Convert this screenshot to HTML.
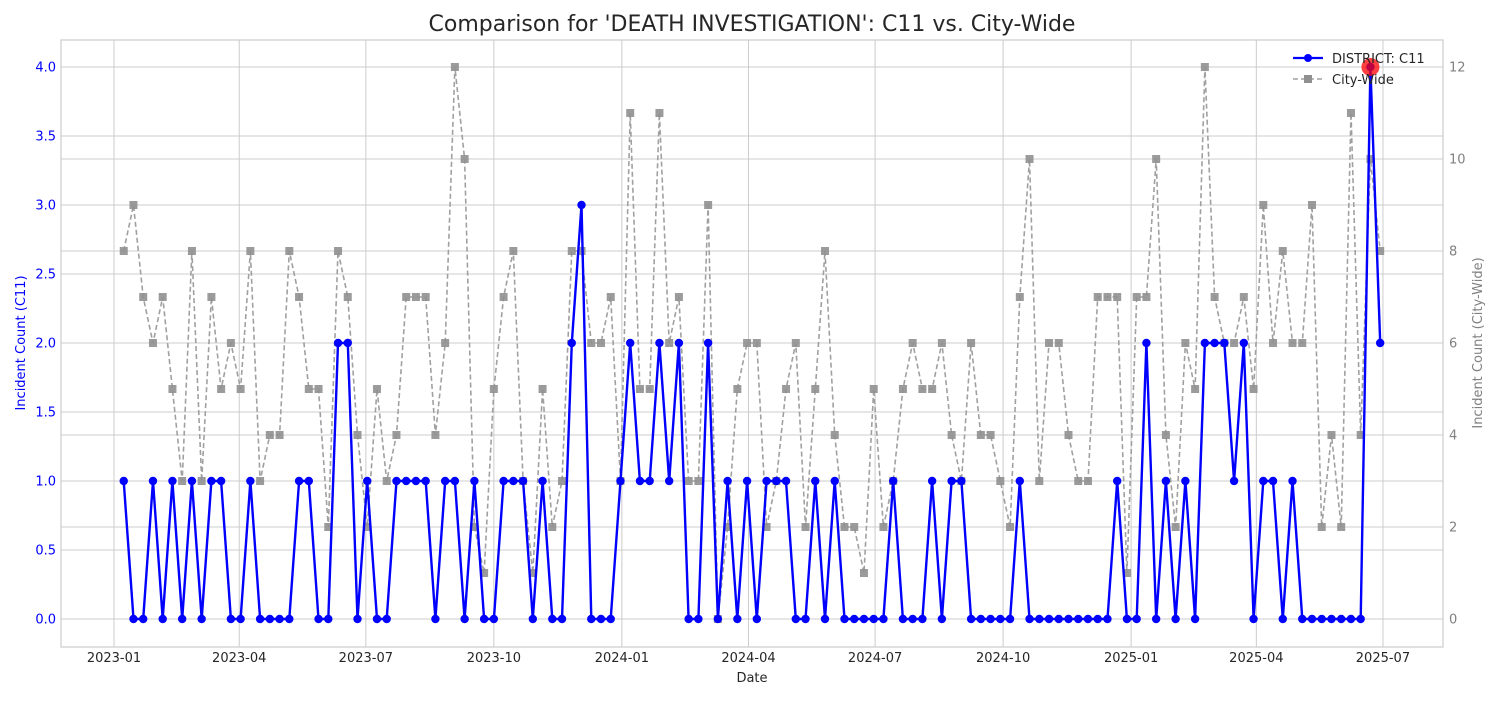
<!DOCTYPE html>
<html><head><meta charset="utf-8">
<style>
body{margin:0;background:#fff;}
svg text{font-family:"DejaVu Sans","Liberation Sans",sans-serif;}
</style></head>
<body>
<svg id="chart" width="1500" height="700" xmlns="http://www.w3.org/2000/svg">
<rect x="0" y="0" width="1500" height="700" fill="#fff"/>
<text x="752" y="31" font-size="22" text-anchor="middle" fill="#262626">Comparison for 'DEATH INVESTIGATION': C11 vs. City-Wide</text>
<g id="grid"></g>
<rect x="61" y="40" width="1382" height="607" fill="none" stroke="#cccccc" stroke-width="1.2"/>
<g id="axes"></g>
<g id="series"></g>
<text x="752" y="682" font-size="13" text-anchor="middle" fill="#262626">Date</text>
<text transform="translate(25,343) rotate(-90)" font-size="13" text-anchor="middle" fill="blue">Incident Count (C11)</text>
<text transform="translate(1482,343) rotate(-90)" font-size="13" text-anchor="middle" fill="#808080">Incident Count (City-Wide)</text>
<g>
  <g>
    <line x1="1293" y1="58" x2="1323" y2="58" stroke="blue" stroke-width="2.2"/>
    <circle cx="1308" cy="58" r="4" fill="blue"/>
    <text x="1332" y="63" font-size="13" fill="#262626">DISTRICT: C11</text>
  </g>
  <g>
    <line x1="1293" y1="79" x2="1323" y2="79" stroke="#a0a0a0" stroke-width="1.6" stroke-dasharray="5,3"/>
    <rect x="1304" y="75" width="8" height="8" fill="#909090"/>
    <text x="1332" y="84" font-size="13" fill="#262626">City-Wide</text>
  </g>
</g>
</svg>
<script>
const startDate = "2023-01-08";
const districtValues = [1,0,0,1,0,1,0,1,0,1, 1,0,0,1,0,0,0,0,1,1, 0,0,2,2,0,1,0,0,1,1, 1,1,0,1,1,0,1,0,0,1, 1,1,0,1,0,0,2,3,0,0, 0,1,2,1,1,2,1,2,0,0, 2,0,1,0,1,0,1,1,1,0, 0,1,0,1,0,0,0,0,0,1, 0,0,0,1,0,1,1,0,0,0, 0,0,1,0,0,0,0,0,0,0, 0,0,1,0,0,2,0,1,0,1, 0,2,2,2,1,2,0,1,1,0, 1,0,0,0,0,0,0,0,4,2];
const cityValues = [8,9,7,6,7,5,3,8,3,7, 5,6,5,8,3,4,4,8,7,5, 5,2,8,7,4,2,5,3,4,7, 7,7,4,6,12,10,2,1,5,7, 8,3,1,5,2,3,8,8,6,6, 7,3,11,5,5,11,6,7,3,3, 9,0,2,5,6,6,2,3,5,6, 2,5,8,4,2,2,1,5,2,3, 5,6,5,5,6,4,3,6,4,4, 3,2,7,10,3,6,6,4,3,3, 7,7,7,1,7,7,10,4,2,6, 5,12,7,6,6,7,5,9,6,8, 6,6,9,2,4,2,11,4,10,8];
const xTickLabels = ["2023-01","2023-04","2023-07","2023-10","2024-01","2024-04","2024-07","2024-10","2025-01","2025-04","2025-07"];
const leftTicks = [0,0.5,1,1.5,2,2.5,3,3.5,4];
const rightTicks = [0,2,4,6,8,10,12];

const NS="http://www.w3.org/2000/svg";
const DAY=86400000;
const x0=Date.UTC(2023,0,1);
function xScale(ms){return 114+(ms-x0)/DAY*1.3914;}
function yL(v){return 619-v*138;}
function yR(v){return 619-v*46;}
function mk(tag,attrs,parent){const e=document.createElementNS(NS,tag);for(const k in attrs)e.setAttribute(k,attrs[k]);parent.appendChild(e);return e;}
const grid=document.getElementById('grid'),axes=document.getElementById('axes'),series=document.getElementById('series');
xTickLabels.forEach(s=>{
  const [y,m]=s.split('-').map(Number);
  const x=xScale(Date.UTC(y,m-1,1));
  const l=mk('line',{x1:x,x2:x,y1:40,y2:647,stroke:'#cccccc','stroke-width':1},grid);
  
  
  const t=mk('text',{x:x,y:662,'font-size':13,'text-anchor':'middle',fill:'#262626'},axes);
  t.textContent=s;
  
  
});
leftTicks.forEach(v=>{
  const y=yL(v);
  const l=mk('line',{x1:61,x2:1443,y1:y,y2:y,stroke:'#cccccc','stroke-width':1},grid);
  
  
  const t=mk('text',{x:56,y:y+4.5,'font-size':13,'text-anchor':'end',fill:'blue'},axes);
  t.textContent=v.toFixed(1);
  
  
});
rightTicks.forEach(v=>{
  const y=yR(v);
  const l=mk('line',{x1:61,x2:1443,y1:y,y2:y,stroke:'#cccccc','stroke-width':1},grid);
  
  
  const t=mk('text',{x:1449,y:y+4.5,'font-size':13,'text-anchor':'start',fill:'#808080'},axes);
  t.textContent=String(v);
  
  
});
const s0=Date.parse(startDate+"T00:00:00Z");
function xi(i){return xScale(s0+i*7*DAY);}
let pc=cityValues.map((v,i)=>xi(i).toFixed(1)+','+yR(v).toFixed(1)).join(' ');
const cl=mk('polyline',{points:pc,fill:'none',stroke:'#a0a0a0','stroke-width':1.6,'stroke-dasharray':'5,3'},series);


cityValues.forEach((v,i)=>{
  const r=mk('rect',{x:xi(i)-4,y:yR(v)-4,width:8,height:8,fill:'#909090','fill-opacity':0.9},series);
  
  
});
let pd=districtValues.map((v,i)=>xi(i).toFixed(1)+','+yL(v).toFixed(1)).join(' ');
const dl=mk('polyline',{points:pd,fill:'none',stroke:'blue','stroke-width':2.4,'stroke-linejoin':'round'},series);


districtValues.forEach((v,i)=>{
  const c=mk('circle',{cx:xi(i),cy:yL(v),r:4.2,fill:'blue'},series);
  
  
});
let mi=0;districtValues.forEach((v,i)=>{if(v>districtValues[mi])mi=i;});
const h=mk('circle',{cx:xi(mi),cy:yL(districtValues[mi]),r:9,fill:'red','fill-opacity':0.75},series);


</script>
</body></html>
